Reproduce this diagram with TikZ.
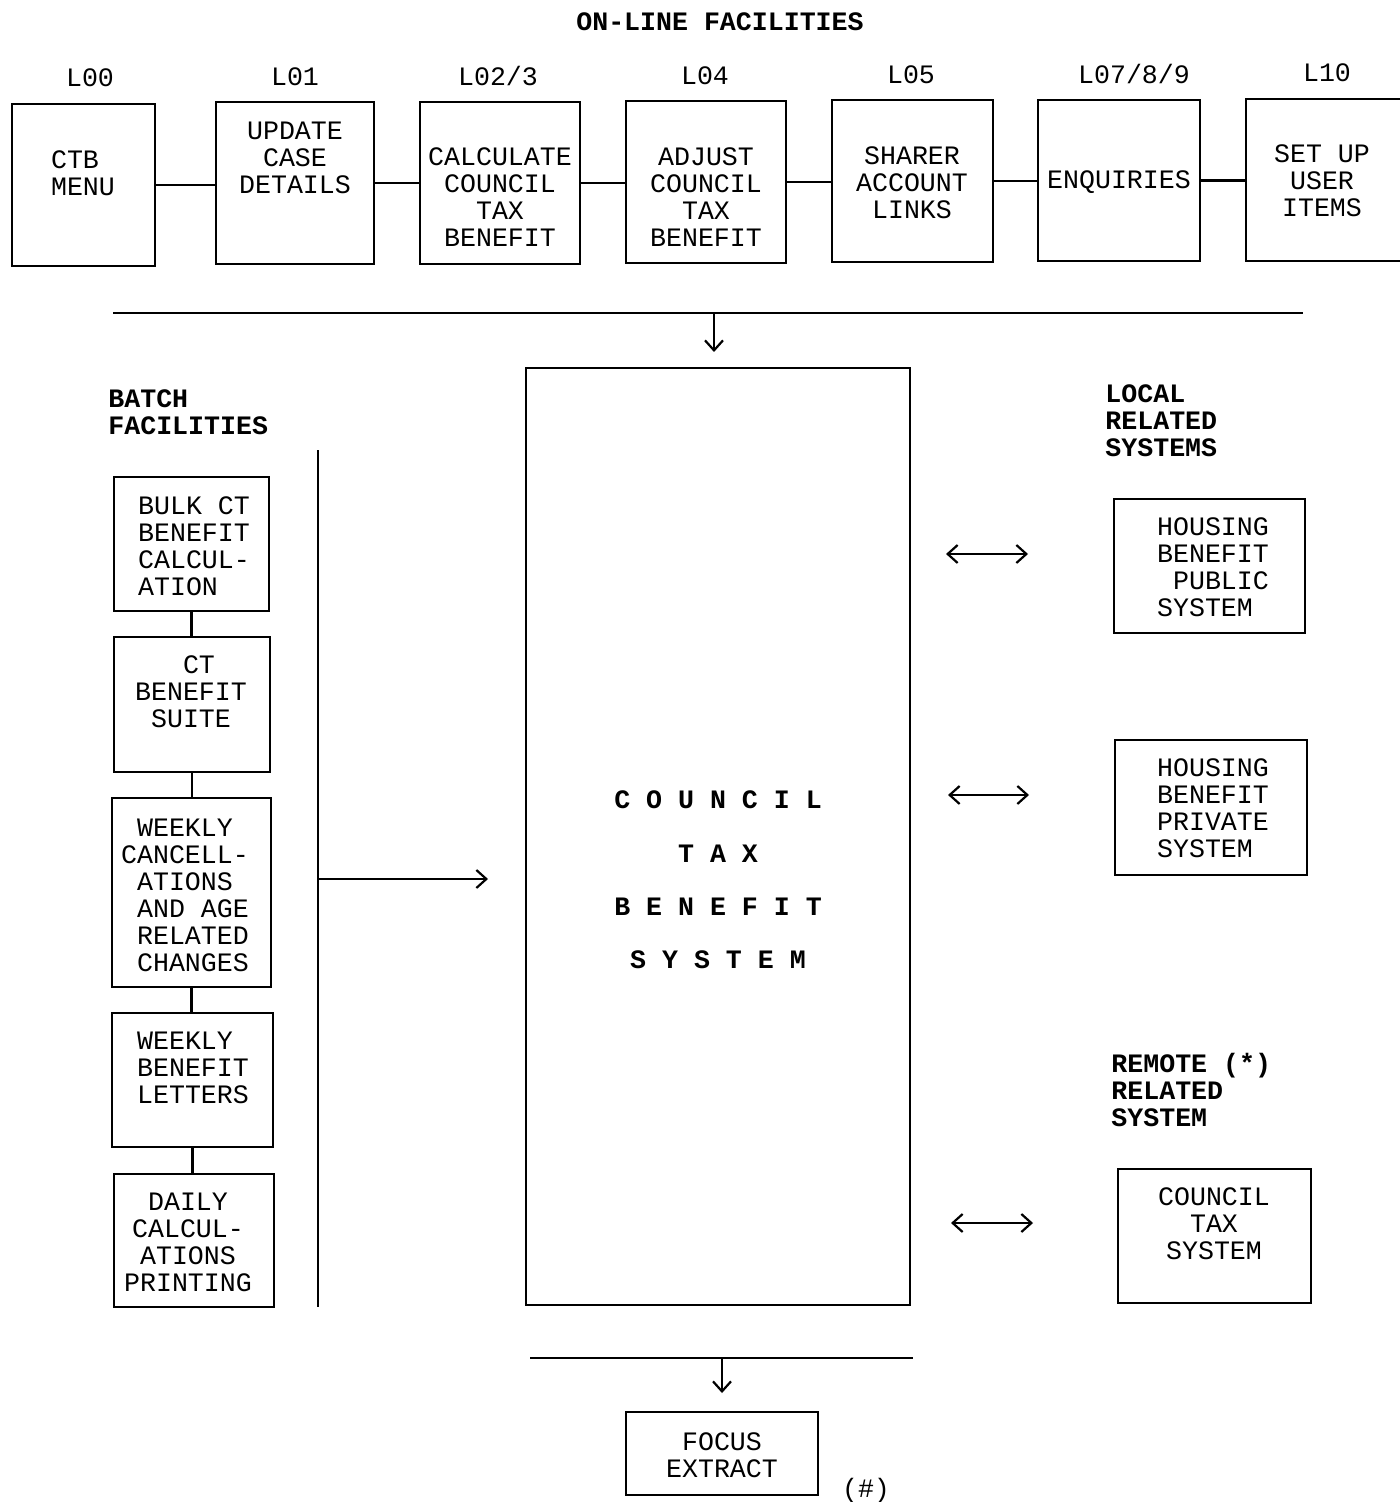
\documentclass[tikz,border=0pt]{standalone}
\usepackage{fontspec}
\setmonofont{Liberation Mono}
\usetikzlibrary{arrows.meta}
\begin{document}
\begin{tikzpicture}[x=0.5pt,y=-0.5pt,
  every node/.style={font=\ttfamily\fontsize{13.3}{13.5}\selectfont, inner sep=0pt},
  box/.style={draw, line width=1.2pt},
  sz/.style 2 args={minimum width=#1*0.5pt, minimum height=#2*0.5pt},
  txt/.style={align=center},
  txl/.style={align=left},
  head/.style={font=\ttfamily\bfseries\fontsize{13.3}{13.5}\selectfont, align=left, anchor=west},
  ln/.style={line width=1.1pt},
  arr/.style={line width=1.1pt, -{Straight Barb[length=5pt,width=9pt]}},
  darr/.style={line width=1.1pt, {Straight Barb[length=5pt,width=9pt]}-{Straight Barb[length=5pt,width=9pt]}}]
\useasboundingbox (0,0) rectangle (1400,1502);

% title
\node[font=\ttfamily\bfseries\fontsize{13.3}{13.5}\selectfont] (title) at (720,22) {ON-LINE FACILITIES};

% top labels
\node (l0) at (90,78) {L00};
\node (l1) at (295,77) {L01};
\node (l2) at (498,76) {L02/3};
\node (l3) at (705,76) {L04};
\node (l4) at (911,75) {L05};
\node (l5) at (1134,74) {L07/8/9};
\node (l6) at (1327,73) {L10};

% top boxes
\node[box, sz={143}{162}] (b0) at (83.5,185) {};
\node[box, sz={158}{162}] (b1) at (295,183) {};
\node[box, sz={160}{162}] (b2) at (500,183) {};
\node[box, sz={160}{162}] (b3) at (706,182) {};
\node[box, sz={161}{162}] (b4) at (912.5,181) {};
\node[box, sz={162}{161}] (b5) at (1119,180.5) {};
\node[box, sz={160}{162}] (b6) at (1326,180) {};

\node[txl] (t0) at (83,173) {CTB\\MENU};
\node[txt] (t1) at (295,158) {UPDATE\\CASE\\DETAILS};
\node[txt] (t2) at (500,197) {CALCULATE\\COUNCIL\\TAX\\BENEFIT};
\node[txt] (t3) at (706,197) {ADJUST\\COUNCIL\\TAX\\BENEFIT};
\node[txt] (t4) at (912,183) {SHARER\\ACCOUNT\\LINKS};
\node[txt] (t5) at (1119,182) {ENQUIRIES};
\node[txt] (t6) at (1322,181) {SET UP\\USER\\ITEMS};

\draw[ln] (b0.east) -- (b0.east -| b1.west);
\draw[ln] (b1.east) -- (b1.east -| b2.west);
\draw[ln] (b2.east) -- (b2.east -| b3.west);
\draw[ln] (b3.east) -- (b3.east -| b4.west);
\draw[ln] (b4.east) -- (b4.east -| b5.west);
\draw[ln] (b5.east) -- (b5.east -| b6.west);

% top bus line and arrow
\coordinate (hl1) at (113,313);
\coordinate (hr1) at (1303,313);
\coordinate (a1s) at (714,313);
\coordinate (a1e) at (714,352);
\draw[ln] (hl1) -- (hr1);
\draw[arr] (a1s) -- (a1e);

% central box
\node[box, sz={384}{937}] (cb) at (718,836.5) {};
\node[font=\ttfamily\bfseries\fontsize{13.3}{26.7}\selectfont, align=center] (ct) at (718,880)
  {C O U N C I L\\T A X\\B E N E F I T\\S Y S T E M};

% batch facilities
\node[head] (bh) at (108,412) {BATCH\\FACILITIES};
\coordinate (vt) at (318,450);
\coordinate (vb) at (318,1307);
\draw[ln] (vt) -- (vb);
\coordinate (a2s) at (318,879);
\coordinate (a2e) at (488,879);
\draw[arr] (a2s) -- (a2e);

\node[box, sz={155}{134}] (k1) at (191.5,544) {};
\node[box, sz={156}{135}] (k2) at (192,704.5) {};
\node[box, sz={159}{189}] (k3) at (191.5,892.5) {};
\node[box, sz={161}{134}] (k4) at (192.5,1080) {};
\node[box, sz={160}{133}] (k5) at (194,1240.5) {};

\node[txl] (s1) at (194,546) {BULK CT\\BENEFIT\\CALCUL-\\ATION};
\node[txt] (s2) at (191,692) {~CT\\BENEFIT\\SUITE};
\node[txl] (s3) at (185,895) {~WEEKLY\\CANCELL-\\~ATIONS\\~AND AGE\\~RELATED\\~CHANGES};
\node[txl] (s4) at (193,1068) {WEEKLY\\BENEFIT\\LETTERS};
\node[txt] (s5) at (188,1242) {DAILY\\CALCUL-\\ATIONS\\PRINTING};

\draw[ln] (k1.south) -- (k1.south |- k2.north);
\draw[ln] (k2.south) -- (k2.south |- k3.north);
\draw[ln] (k3.south) -- (k3.south |- k4.north);
\draw[ln] (k4.south) -- (k4.south |- k5.north);

% local related systems
\node[head] (lh) at (1105,421) {LOCAL\\RELATED\\SYSTEMS};
\node[box, sz={191}{134}] (r1) at (1209.5,566) {};
\node[box, sz={192}{135}] (r2) at (1211,807.5) {};
\node[txl] (u1) at (1213,567) {HOUSING\\BENEFIT\\~PUBLIC\\SYSTEM};
\node[txl] (u2) at (1213,808.5) {HOUSING\\BENEFIT\\PRIVATE\\SYSTEM};
\coordinate (d1a) at (946,554);
\coordinate (d1b) at (1028,554);
\coordinate (d2a) at (948,795);
\coordinate (d2b) at (1029,795);
\draw[darr] (d1a) -- (d1b);
\draw[darr] (d2a) -- (d2b);

% remote related system
\node[head] (rh) at (1111,1090) {REMOTE (*)\\RELATED\\SYSTEM};
\node[box, sz={193}{134}] (r3) at (1214.5,1236) {};
\node[txt] (u3) at (1214,1224) {COUNCIL\\TAX\\SYSTEM};
\coordinate (d3a) at (951,1223);
\coordinate (d3b) at (1033,1223);
\draw[darr] (d3a) -- (d3b);

% bottom
\coordinate (bl) at (530,1358);
\coordinate (br) at (913,1358);
\draw[ln] (bl) -- (br);
\coordinate (a3s) at (722,1358);
\coordinate (a3e) at (722,1393);
\draw[arr] (a3s) -- (a3e);
\node[box, sz={192}{83}] (fb) at (722,1453.5) {};
\node[txt] (ft) at (722,1455) {FOCUS\\EXTRACT};
\node (hash) at (866,1491) {(\#)};
\end{tikzpicture}
\end{document}
